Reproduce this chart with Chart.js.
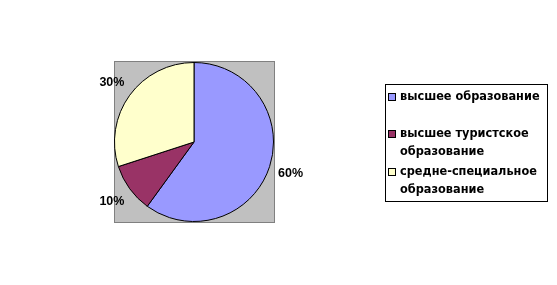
<!DOCTYPE html>
<html>
<head>
<meta charset="utf-8">
<script src="https://cdn.jsdelivr.net/npm/chart.js@4"></script>
<style>
  html, body { margin: 0; padding: 0; background: #fff; }
  #wrap { width: 557px; height: 285px; }
</style>
</head>
<body>
<div id="wrap"><canvas id="pieChart" width="557" height="285"></canvas></div>
<script>
// Data
const categories = [
  ['высшее образование'],
  ['высшее туристское', 'образование'],
  ['средне-специальное', 'образование']
];
const shares = [60, 10, 30];
const percentLabels = ['60%', '10%', '30%'];
const sliceColors = ['#9999FF', '#993366', '#FFFFCC'];

const labelFont = 'bold 12.5px "Liberation Sans", Arial, sans-serif';
const legendFont = 'bold 12.6px "DejaVu Sans Condensed", "DejaVu Sans", sans-serif';

// gray plot area behind the pie
const plotBackground = {
  id: 'plotBackground',
  beforeDraw(chart) {
    const ctx = chart.ctx;
    ctx.save();
    ctx.fillStyle = '#C0C0C0';
    ctx.fillRect(114, 61, 161, 162);
    ctx.strokeStyle = '#808080';
    ctx.lineWidth = 1;
    ctx.strokeRect(114.5, 61.5, 160, 161);
    ctx.restore();
  }
};

// percent labels outside each slice
const percentText = {
  id: 'percentText',
  afterDatasetsDraw(chart) {
    const ctx = chart.ctx;
    const arcs = chart.getDatasetMeta(0).data;
    ctx.save();
    ctx.font = labelFont;
    ctx.fillStyle = '#000';
    ctx.textAlign = 'center';
    ctx.textBaseline = 'middle';
    arcs.forEach((arc, i) => {
      const mid = (arc.startAngle + arc.endAngle) / 2;
      const r = arc.outerRadius + 22;
      ctx.fillText(percentLabels[i], arc.x + Math.cos(mid) * r, arc.y + Math.sin(mid) * r);
    });
    ctx.restore();
  }
};

// boxed legend on the right, with wrapped lines
const boxLegend = {
  id: 'boxLegend',
  afterDraw(chart) {
    const ctx = chart.ctx;
    ctx.save();
    ctx.strokeStyle = '#000';
    ctx.lineWidth = 1;
    ctx.strokeRect(385.5, 84.5, 162, 117);
    ctx.font = legendFont;
    ctx.textBaseline = 'middle';
    const itemTops = [97, 134, 172];
    categories.forEach((lines, i) => {
      const y = itemTops[i];
      ctx.fillStyle = sliceColors[i];
      ctx.fillRect(388, y - 4, 8, 8);
      ctx.strokeStyle = '#000';
      ctx.strokeRect(388.5, y - 3.5, 7, 7);
      ctx.fillStyle = '#000';
      lines.forEach((line, j) => {
        ctx.fillText(line, 400, y + j * 18);
      });
    });
    ctx.restore();
  }
};

new Chart(document.getElementById('pieChart'), {
  type: 'pie',
  data: {
    labels: categories.map(l => l.join(' ')),
    datasets: [{
      data: shares,
      backgroundColor: sliceColors,
      borderColor: '#000',
      borderWidth: 1
    }]
  },
  options: {
    responsive: false,
    animation: false,
    layout: {
      padding: { left: 114, right: 283, top: 62, bottom: 63 }
    },
    plugins: {
      legend: { display: false },
      tooltip: { enabled: false }
    }
  },
  plugins: [plotBackground, percentText, boxLegend]
});
</script>
</body>
</html>
